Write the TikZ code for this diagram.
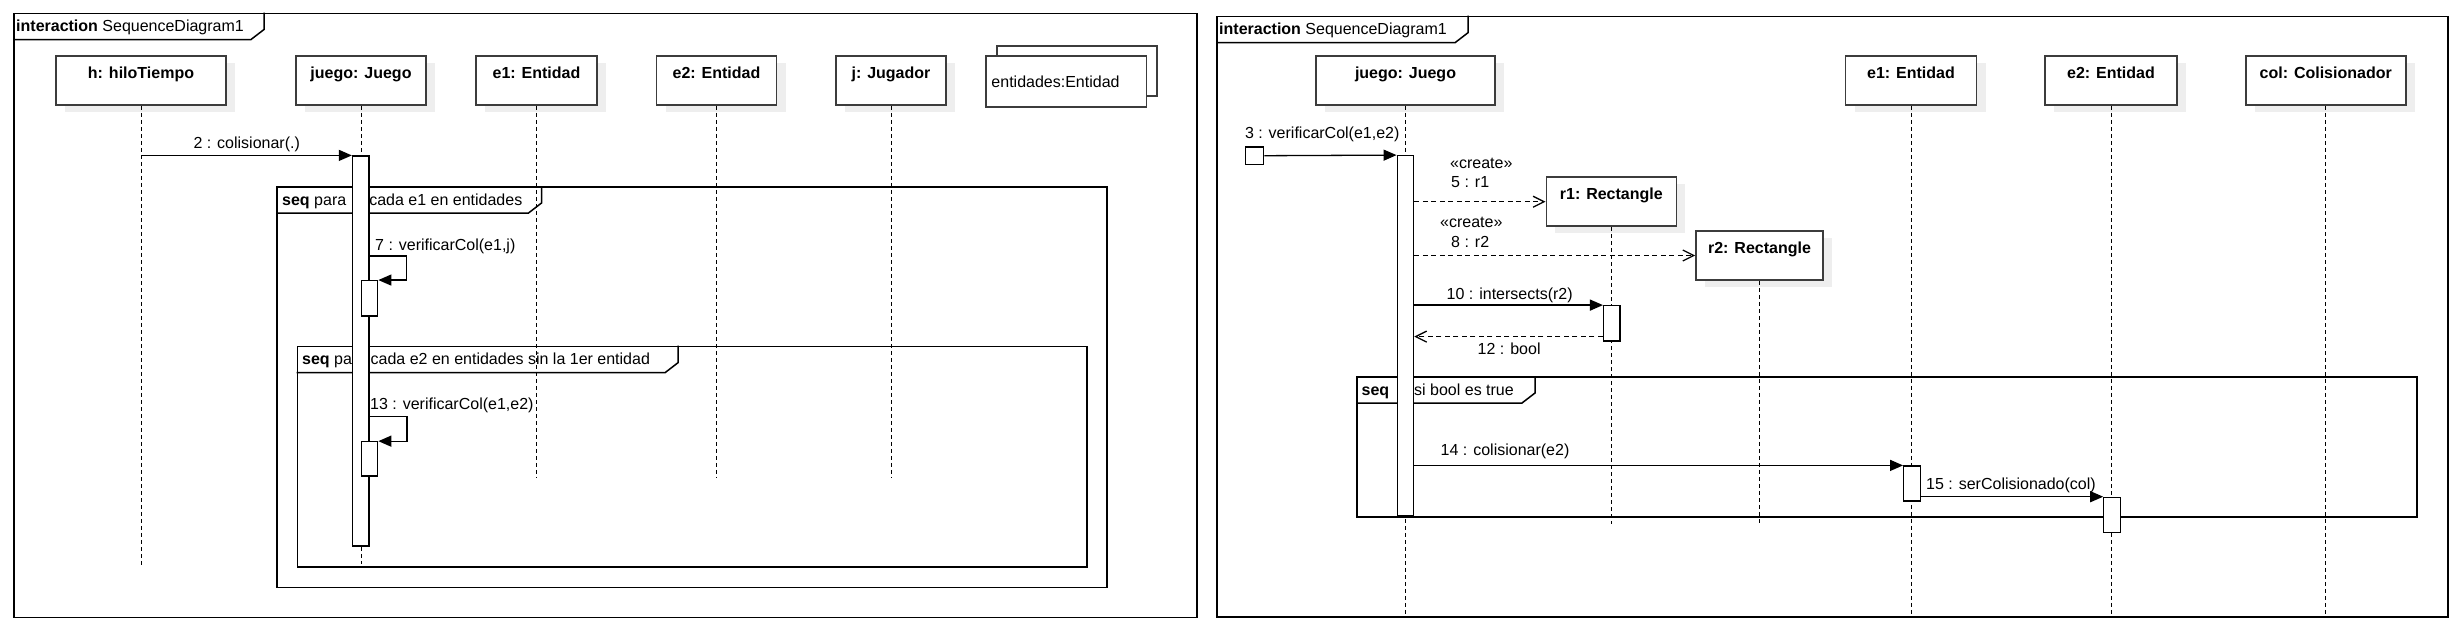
\documentclass[tikz,border=0pt]{standalone}
\usepackage{fontspec}
\setmainfont{Liberation Sans}
\usetikzlibrary{arrows.meta,shadows}
\definecolor{boxline}{RGB}{60,60,60}
\definecolor{shadegray}{RGB}{238,238,238}

\begin{document}
\begin{tikzpicture}[x=1pt, y=-1pt, font=\fontsize{16}{19}\selectfont,
    objbox/.style={draw=boxline, line width=1.6pt, fill=white, inner sep=0pt,
        minimum height=49pt, text height=12pt, text depth=17pt,
        font=\fontsize{16}{19}\selectfont\bfseries,
        drop shadow={shadow xshift=9pt, shadow yshift=-7pt, fill=shadegray, opacity=1}},
    multibox/.style={draw=boxline, line width=1.6pt, fill=white, inner sep=0pt},
    actbar/.style={draw, line width=1.2pt, fill=white, inner sep=0pt, minimum width=16.5pt},
    umlframe/.style={draw, line width=1.5pt, inner sep=0pt, anchor=north west},
    tabline/.style={line width=1.5pt},
    lifeline/.style={line width=1pt, dash pattern=on 4pt off 3pt},
    msg/.style={line width=1.3pt, -{Triangle[length=13pt,width=11pt]}},
    create/.style={line width=1.3pt, dash pattern=on 5pt off 3.5pt, -{Straight Barb[length=11pt,width=11pt]}},
    txt/.style={anchor=base west, inner sep=0pt}]

    % Background
    \fill[white] (0,0) rectangle (2454,640);
    \useasboundingbox (0,0) rectangle (2454,640);

    % Left interaction frame
    \node[umlframe, minimum width=1183pt, minimum height=604pt] (frameL) at (13,12.5) {};
    \draw[tabline] ([yshift=-27pt]frameL.north west) -- ++(238,0) -- ++(13,-10) -- ++(0,-17);
    \node[txt] (titleL) at ([xshift=3pt,yshift=-19pt]frameL.north west) {\textbf{interaction} SequenceDiagram1};

    % Loop fragments (left)
    \node[umlframe, minimum width=830pt, minimum height=400.7pt] (seqA) at (276,186) {};
    \draw[tabline] ([yshift=-27pt]seqA.north west) -- ++(252.5,0) -- ++(13,-10) -- ++(0,-17);
    \node[txt] (seqAlbl) at ([xshift=6pt,yshift=-19pt]seqA.north west) {\textbf{seq} para\hspace{18.6pt} cada e1 en entidades};

    \node[umlframe, minimum width=789.5pt, minimum height=220.3pt] (seqB) at (296.5,345.7) {};
    \draw[tabline] ([yshift=-27pt]seqB.north west) -- ++(368.5,0) -- ++(13,-10) -- ++(0,-17);
    \node[txt] (seqBlbl) at ([xshift=5.5pt,yshift=-19pt]seqB.north west) {\textbf{seq} para cada e2 en entidades sin la 1er entidad};

    % Right interaction frame
    \node[umlframe, minimum width=1231pt, minimum height=600.3pt] (frameR) at (1216,15.7) {};
    \draw[tabline] ([yshift=-27pt]frameR.north west) -- ++(239,0) -- ++(13,-10) -- ++(0,-17);
    \node[txt] (titleR) at ([xshift=3pt,yshift=-19pt]frameR.north west) {\textbf{interaction} SequenceDiagram1};

    % Fragment (right)
    \node[umlframe, minimum width=1060pt, minimum height=140pt] (seqC) at (1356,376) {};
    \draw[tabline] ([yshift=-27pt]seqC.north west) -- ++(166,0) -- ++(13,-10) -- ++(0,-17);
    \node[txt] (seqClbl) at ([xshift=5.4pt,yshift=-19pt]seqC.north west) {\textbf{seq}\hspace{25pt}si bool es true};

    % Objects (left)
    \node[objbox, minimum width=170pt] (h) at (141,80.5) {h: hiloTiempo};
    \node[objbox, minimum width=130pt] (juego) at (361,80.5) {juego: Juego};
    \node[objbox, minimum width=121pt] (e1) at (536.5,80.5) {e1: Entidad};
    \node[objbox, minimum width=120pt] (e2) at (716.5,80.5) {e2: Entidad};
    \node[objbox, minimum width=110pt] (j) at (891,80.5) {j: Jugador};
    \node[multibox, minimum width=160pt, minimum height=50pt] (entBack) at (1077,71) {};
    \node[multibox, minimum width=160.5pt, minimum height=51pt] (ent) at (1066.3,81.5) {};
    \node[anchor=west, inner sep=0pt] (entLbl) at ([xshift=6pt]ent.west) {entidades:Entidad};

    % Objects (right)
    \node[objbox, minimum width=179pt] (juegoR) at (1405.5,80.5) {juego: Juego};
    \node[objbox, minimum width=131pt] (e1R) at (1911,80.5) {e1: Entidad};
    \node[objbox, minimum width=131.5pt] (e2R) at (2111,80.5) {e2: Entidad};
    \node[objbox, minimum width=160pt] (col) at (2325.7,80.5) {col: Colisionador};
    \node[objbox, minimum width=130pt] (r1) at (1611.3,201.7) {r1: Rectangle};
    \node[objbox, minimum width=127pt] (r2) at (1759.5,255.5) {r2: Rectangle};

    % Lifelines
    \draw[lifeline] (h.south) -- ++(0,461);
    \draw[lifeline] (juego.south) -- ++(0,458);
    \draw[lifeline] (e1.south) -- ++(0,372);
    \draw[lifeline] (e2.south) -- ++(0,372);
    \draw[lifeline] (j.south) -- ++(0,372);
    \draw[lifeline] (juegoR.south) -- ++(0,508);
    \draw[lifeline] (e1R.south) -- ++(0,508);
    \draw[lifeline] (e2R.south) -- ++(0,508);
    \draw[lifeline] (col.south) -- ++(0,508);
    \draw[lifeline] (r1.south) -- ++(0,297);
    \draw[lifeline] (r2.south) -- ++(0,244);

    % Activations
    \node[actbar, minimum height=390pt] (jAct) at (360.7,351) {};
    \node[actbar, minimum height=35.3pt] (selfA) at (369.5,298.3) {};
    \node[actbar, minimum height=34.3pt] (selfB) at (369.5,458.9) {};
    \node[actbar, minimum width=18pt, minimum height=17.3pt] (found) at (1254.7,155.7) {};
    \node[actbar, minimum height=360.3pt] (jActR) at (1405.4,335.85) {};
    \node[actbar, minimum height=35.3pt] (r1Act) at (1611.8,323.35) {};
    \node[actbar, minimum height=35pt] (e1Act) at (1911.9,483.5) {};
    \node[actbar, minimum height=35pt] (e2Act) at (2112,514.8) {};

    % Messages (left)
    \draw[msg] (h.south |- jAct.north) -- (jAct.north west);
    \node[txt] (m2lbl) at (193.3,148.3) {2 : colisionar(.)};
    \coordinate (selfAtop) at ([yshift=24pt]selfA.north east);
    \draw[msg] (selfAtop -| jAct.east) -| ([xshift=28pt]selfA.north east) -- (selfA.north east);
    \node[txt] (m7lbl) at (375,250) {7 : verificarCol(e1,j)};
    \coordinate (selfBtop) at ([yshift=25pt]selfB.north east);
    \draw[msg] (selfBtop -| jAct.east) -| ([xshift=28.5pt]selfB.north east) -- (selfB.north east);
    \node[txt] (m13lbl) at (370,409) {13 : verificarCol(e1,e2)};

    % Messages (right)
    \draw[msg] (found.east) -- (jActR.north west);
    \node[txt] (m3lbl) at (1244.8,138.3) {3 : verificarCol(e1,e2)};
    \draw[create] (r1.west -| jActR.east) -- (r1.west);
    \node[txt] (m5st) at (1450,168.3) {«create»};
    \node[txt] (m5lbl) at (1451,187.7) {5 : r1};
    \draw[create] (r2.west -| jActR.east) -- (r2.west);
    \node[txt] (m8st) at (1440,227.5) {«create»};
    \node[txt] (m8lbl) at (1451,247.5) {8 : r2};
    \draw[msg] (r1Act.north west -| jActR.east) -- (r1Act.north west);
    \node[txt] (m10lbl) at (1446.5,299.3) {10 : intersects(r2)};
    \coordinate (ret12) at ([yshift=5pt]r1Act.south west);
    \draw[create] (ret12) -- (ret12 -| jActR.east);
    \node[txt] (m12lbl) at (1477.5,354) {12 : bool};
    \draw[msg] (e1Act.north west -| jActR.east) -- (e1Act.north west);
    \node[txt] (m14lbl) at (1440.5,455.7) {14 : colisionar(e2)};
    \draw[msg] (e2Act.north west -| e1Act.east) -- (e2Act.north west);
    \node[txt] (m15lbl) at (1926,489.3) {15 : serColisionado(col)};

\end{tikzpicture}
\end{document}
